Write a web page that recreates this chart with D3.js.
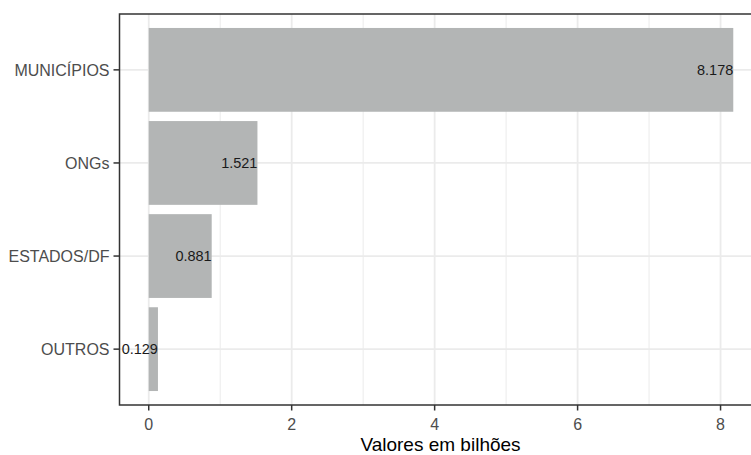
<!DOCTYPE html>
<html><head><meta charset="utf-8">
<script src="https://cdn.jsdelivr.net/npm/d3@7"></script>
<style>body{margin:0;background:#fff}svg{display:block}</style>
</head><body>
<svg id="c" width="751" height="455"></svg>
<script>
const categories = ["MUNICÍPIOS", "ONGs", "ESTADOS/DF", "OUTROS"];
const values = [8.178, 1.521, 0.881, 0.129];
const labels = ["8.178", "1.521", "0.881", "0.129"];
const xTicks = [0, 2, 4, 6, 8];
const xMinor = [1, 3, 5, 7];
const xTitle = "Valores em bilhões";

const svg = d3.select("#c");
const L = 119.5, R = 762.5, T = 14, B = 405;
const maxV = d3.max(values);
const x = d3.scaleLinear().domain([-0.05 * maxV, maxV * 1.05]).range([L, R]);
const y = d3.scaleBand().domain(categories).range([T, B]).paddingInner(0.1).paddingOuter(0.15);

const g = svg.append("g");
// minor grid
g.selectAll(".minor").data(xMinor).join("line")
  .attr("x1", d => x(d)).attr("x2", d => x(d)).attr("y1", T).attr("y2", B)
  .attr("stroke", "#ebebeb").attr("stroke-width", 1);
// major grid
g.selectAll(".majx").data(xTicks).join("line")
  .attr("x1", d => x(d)).attr("x2", d => x(d)).attr("y1", T).attr("y2", B)
  .attr("stroke", "#ebebeb").attr("stroke-width", 1.8);
g.selectAll(".majy").data(categories).join("line")
  .attr("x1", L).attr("x2", R)
  .attr("y1", d => y(d) + y.bandwidth() / 2).attr("y2", d => y(d) + y.bandwidth() / 2)
  .attr("stroke", "#ebebeb").attr("stroke-width", 1.8);

// bars
g.selectAll(".bar").data(categories).join("rect")
  .attr("x", x(0)).attr("y", d => y(d))
  .attr("width", (d, i) => x(values[i]) - x(0))
  .attr("height", y.bandwidth())
  .attr("fill", "#b3b5b5");

// panel border
svg.append("rect").attr("x", L).attr("y", T).attr("width", R - L).attr("height", B - T)
  .attr("fill", "none").attr("stroke", "#333333").attr("stroke-width", 1.5);

// value labels
g.selectAll(".lab").data(categories).join("text")
  .attr("x", (d, i) => x(values[i])).attr("y", d => y(d) + y.bandwidth() / 2)
  .attr("dy", "0.36em").attr("text-anchor", "end")
  .attr("font-family", "Liberation Sans, Arial, sans-serif").attr("font-size", 14.5)
  .attr("fill", "#1a1a1a")
  .text((d, i) => labels[i]);

// x axis ticks
const xa = svg.append("g");
xa.selectAll("line").data(xTicks).join("line")
  .attr("x1", d => x(d)).attr("x2", d => x(d)).attr("y1", B).attr("y2", B + 5.5)
  .attr("stroke", "#333333").attr("stroke-width", 1.5);
xa.selectAll("text").data(xTicks).join("text")
  .attr("x", d => x(d)).attr("y", 429.5)
  .attr("text-anchor", "middle")
  .attr("font-family", "Liberation Sans, Arial, sans-serif").attr("font-size", 16)
  .attr("fill", "#4d4d4d").text(d => d);

// y axis ticks
const ya = svg.append("g");
ya.selectAll("line").data(categories).join("line")
  .attr("x1", L - 6).attr("x2", L)
  .attr("y1", d => y(d) + y.bandwidth() / 2).attr("y2", d => y(d) + y.bandwidth() / 2)
  .attr("stroke", "#333333").attr("stroke-width", 1.5);
ya.selectAll("text").data(categories).join("text")
  .attr("x", L - 10).attr("y", d => y(d) + y.bandwidth() / 2)
  .attr("dy", "0.36em").attr("text-anchor", "end")
  .attr("font-family", "Liberation Sans, Arial, sans-serif").attr("font-size", 16)
  .attr("fill", "#4d4d4d").text(d => d);

// x title
svg.append("text").attr("x", (L + R) / 2 - 0.5).attr("y", 450.5)
  .attr("text-anchor", "middle")
  .attr("font-family", "Liberation Sans, Arial, sans-serif").attr("font-size", 19)
  .attr("fill", "#000").text(xTitle);
</script>
</body></html>
